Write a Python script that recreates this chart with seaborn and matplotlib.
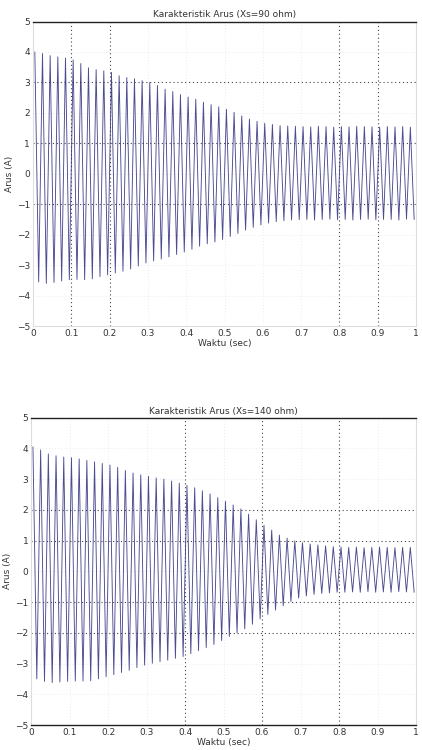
import numpy as np
import pandas as pd
import matplotlib
matplotlib.use('Agg')
import matplotlib.pyplot as plt
import seaborn as sns

# puncak positif dan negatif tiap siklus (50 Hz)
atas_90 = [4.00, 3.95, 3.88, 3.84, 3.80, 3.74, 3.62, 3.48, 3.42, 3.38,
           3.33, 3.22, 3.16, 3.12, 3.06, 3.00, 2.90, 2.78, 2.70, 2.60,
           2.52, 2.45, 2.35, 2.27, 2.20, 2.12, 2.02, 1.90, 1.80, 1.72,
           1.66, 1.62, 1.58, 1.57, 1.56, 1.55, 1.54, 1.56, 1.55, 1.53,
           1.55, 1.54, 1.56, 1.55, 1.54, 1.53, 1.55, 1.54, 1.55, 1.53]
bawah_90 = [-3.55, -3.60, -3.57, -3.52, -3.48, -3.47, -3.48, -3.45, -3.38, -3.32,
            -3.26, -3.20, -3.13, -3.03, -2.93, -2.86, -2.80, -2.73, -2.65, -2.57,
            -2.48, -2.38, -2.30, -2.24, -2.16, -2.06, -1.96, -1.85, -1.76, -1.68,
            -1.62, -1.57, -1.54, -1.52, -1.51, -1.50, -1.52, -1.50, -1.49, -1.51,
            -1.50, -1.52, -1.50, -1.49, -1.51, -1.50, -1.50, -1.52, -1.49, -1.50]

atas_140 = [4.05, 3.95, 3.82, 3.76, 3.72, 3.70, 3.66, 3.61, 3.56, 3.51,
            3.46, 3.38, 3.28, 3.20, 3.14, 3.09, 3.04, 3.00, 2.94, 2.87,
            2.80, 2.72, 2.62, 2.52, 2.40, 2.28, 2.16, 2.03, 1.86, 1.68,
            1.50, 1.34, 1.18, 1.08, 0.99, 0.93, 0.89, 0.86, 0.83, 0.80,
            0.79, 0.78, 0.79, 0.77, 0.78, 0.79, 0.78, 0.77, 0.78, 0.78]
bawah_140 = [-3.50, -3.58, -3.62, -3.60, -3.58, -3.57, -3.57, -3.56, -3.50, -3.43,
             -3.36, -3.29, -3.22, -3.13, -3.05, -2.99, -2.94, -2.89, -2.83, -2.77,
             -2.68, -2.58, -2.48, -2.38, -2.25, -2.12, -2.00, -1.87, -1.72, -1.55,
             -1.40, -1.26, -1.12, -0.98, -0.87, -0.80, -0.75, -0.72, -0.70, -0.68,
             -0.68, -0.67, -0.68, -0.66, -0.68, -0.67, -0.68, -0.66, -0.67, -0.68]

judul = ['Karakteristik Arus (Xs=90 ohm)', 'Karakteristik Arus (Xs=140 ohm)']
x_ticks = [0, 0.1, 0.2, 0.3, 0.4, 0.5, 0.6, 0.7, 0.8, 0.9, 1]
x_labels = ['0', '0.1', '0.2', '0.3', '0.4', '0.5', '0.6', '0.7', '0.8', '0.9', '1']
y_ticks = [-5, -4, -3, -2, -1, 0, 1, 2, 3, 4, 5]

# grid yang masih terlihat jelas di hasil scan
grid_x_jelas = [[0.1, 0.2, 0.8, 0.9], [0.4, 0.6, 0.8]]
grid_y_jelas = [[3, 1, -1], [2, 1, -1, -2]]


def gelombang(atas, bawah):
    # waktu puncak: satu siklus tiap 0.02 s
    t_atas = np.arange(len(atas)) * 0.02 + 0.005
    t_bawah = np.arange(len(bawah)) * 0.02 + 0.015
    df = pd.DataFrame({'t': np.concatenate([t_atas, t_bawah]),
                       'i': np.concatenate([atas, bawah])})
    return df.sort_values('t')


sns.set_style('white')
plt.rcParams['font.family'] = ['DejaVu Sans']

fig = plt.figure(figsize=(4.22, 7.5), dpi=100)
ax1 = fig.add_axes([0.078, 0.5653, 0.908, 0.406])
ax2 = fig.add_axes([0.0735, 0.0333, 0.9125, 0.4098])

data = [gelombang(atas_90, bawah_90), gelombang(atas_140, bawah_140)]

for k, ax in enumerate([ax1, ax2]):
    for gx in x_ticks:
        if gx in grid_x_jelas[k]:
            ax.axvline(gx, color='#444444', ls=(0, (1, 2.5)), lw=0.8, zorder=1)
        else:
            ax.axvline(gx, color='#e4e4ee', ls=(0, (1, 2.5)), lw=0.6, zorder=1)
    for gy in y_ticks:
        if gy in grid_y_jelas[k]:
            ax.axhline(gy, color='#444444', ls=(0, (1, 2.5)), lw=0.8, zorder=1)
        else:
            ax.axhline(gy, color='#e4e4ee', ls=(0, (1, 2.5)), lw=0.6, zorder=1)

    sns.lineplot(data=data[k], x='t', y='i', ax=ax, color='#2c2c7e',
                 lw=0.65, alpha=0.85, sort=False, estimator=None, zorder=2)

    ax.set_xlim(0, 1)
    ax.set_ylim(-5, 5)
    ax.set_xticks(x_ticks)
    ax.set_xticklabels(x_labels)
    ax.set_yticks(y_ticks)
    ax.tick_params(direction='in', length=3, width=0.8, labelsize=6.5,
                   colors='#333333', pad=2)
    ax.set_title(judul[k], fontsize=6.5, color='#333333', pad=3)
    ax.set_xlabel('Waktu (sec)', fontsize=6.5, color='#333333', labelpad=1)
    ax.set_ylabel('Arus (A)', fontsize=6.5, color='#333333', labelpad=2)
    for s in ['left', 'right', 'bottom']:
        ax.spines[s].set_color('#dddddd')
    ax.spines['top'].set_color('#222222')
    ax.spines['top'].set_linewidth(1.0)

ax2.spines['bottom'].set_color('#222222')
ax2.spines['bottom'].set_linewidth(1.0)

plt.savefig('out.png', dpi=100)
